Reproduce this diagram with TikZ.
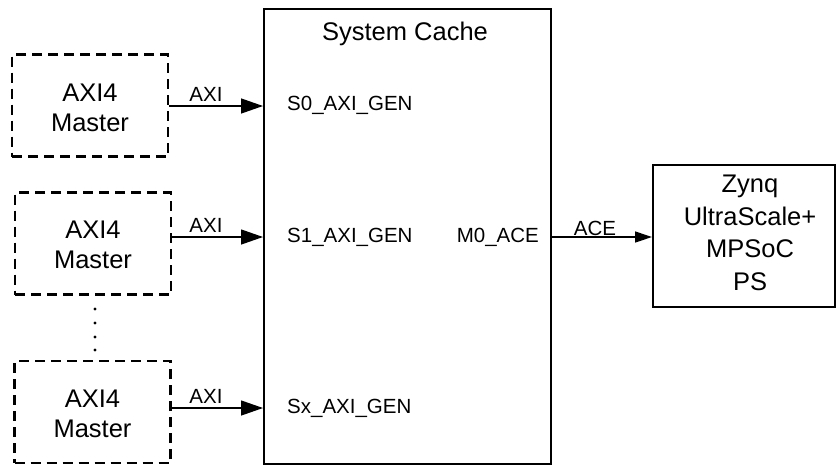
\documentclass[tikz,border=0pt]{standalone}
\usepackage{fontspec}
\setmainfont{Liberation Sans}
\usetikzlibrary{arrows.meta}
\begin{document}
\begin{tikzpicture}[x=1pt,y=-1pt,
  bigtxt/.style={font=\fontsize{25.5}{30}\selectfont, align=center},
  smalltxt/.style={font=\fontsize{20.5}{24}\selectfont, inner sep=0pt},
  masterbox/.style={draw, line width=2.5pt, dash pattern=on 10pt off 6pt, minimum width=156pt, minimum height=102pt, inner sep=0pt},
  solidbox/.style={draw, line width=2pt, inner sep=0pt},
  axiarrow/.style={line width=1.3pt, -{Triangle[length=22pt,width=15pt]}},
  acearrow/.style={line width=1.3pt, -{Triangle[length=17pt,width=11pt]}},
  conlabel/.style={font=\fontsize{20.5}{24}\selectfont, inner sep=0pt, anchor=base}
]
\useasboundingbox (0,0) rectangle (837,466);

% System Cache
\node[solidbox, minimum width=287pt, minimum height=455pt] (cache) at (407.5,236.5) {};
\node[font=\fontsize{25.5}{30}\selectfont, inner sep=0pt, anchor=base] (title) at (405,40) {System Cache};

% Masters
\node[masterbox] (m1) at (90,105.5) {};
\node[bigtxt] (m1t) at (90,108) {AXI4\\Master};
\node[masterbox] (m2) at (93,243.5) {};
\node[bigtxt] (m2t) at (93,245) {AXI4\\Master};
\node[masterbox] (m3) at (92.5,412) {};
\node[bigtxt] (m3t) at (92.5,414) {AXI4\\Master};

% dots
\foreach \yy in {309,323,337,350} \fill (95,\yy) circle (1.6pt);

% Port labels
\node[smalltxt, anchor=west] (s0) at (287,105) {S0\_AXI\_GEN};
\node[smalltxt, anchor=west] (s1) at (287,237) {S1\_AXI\_GEN};
\node[smalltxt, anchor=west] (sx) at (287,408) {Sx\_AXI\_GEN};
\node[smalltxt, anchor=east] (m0) at (539,237) {M0\_ACE};

% Zynq
\node[solidbox, minimum width=182pt, minimum height=142pt] (zynq) at (744,236) {};
\node[bigtxt, font=\fontsize{25.5}{32.5}\selectfont] (zynqt) at (750,233) {Zynq\\UltraScale+\\MPSoC\\PS};

% Connectors
\coordinate (a1) at (m1.east |- 0,106);
\coordinate (a2) at (m2.east |- s1);
\coordinate (a3) at (m3.east |- sx);
\draw[axiarrow] (a1) -- (a1 -| cache.west);
\draw[axiarrow] (a2) -- (a2 -| cache.west);
\draw[axiarrow] (a3) -- (a3 -| cache.west);
\node[conlabel] (l1) at (206,101) {AXI};
\node[conlabel] (l2) at (206,232) {AXI};
\node[conlabel] (l3) at (206,403) {AXI};
\coordinate (c1) at (cache.east |- m0);
\draw[acearrow] (c1) -- (c1 -| zynq.west);
\node[conlabel] (l4) at (595,235) {ACE};
\end{tikzpicture}
\end{document}
